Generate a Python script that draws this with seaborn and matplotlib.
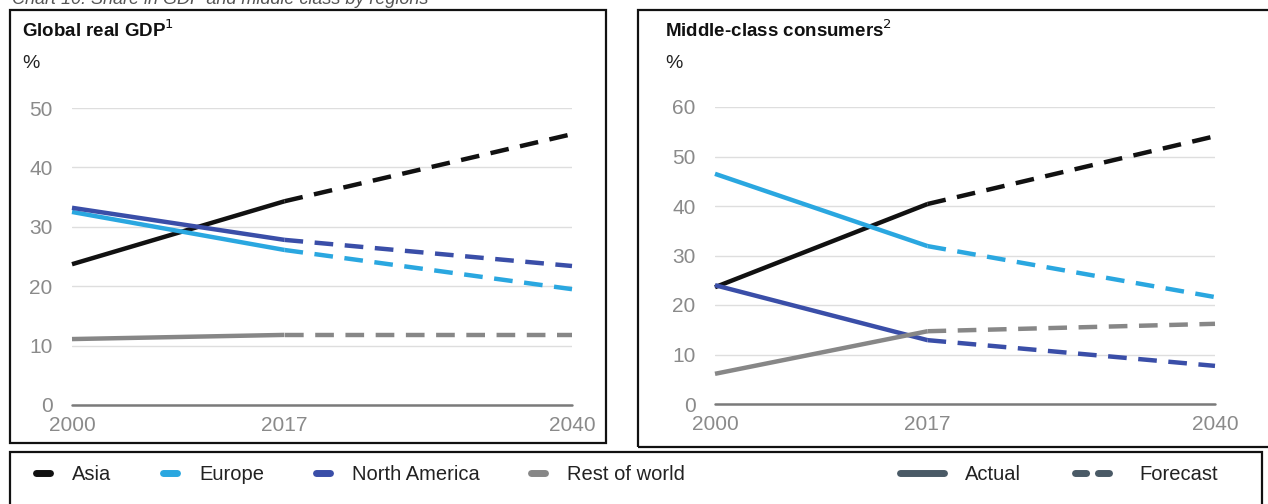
import pandas as pd
import matplotlib.pyplot as plt
import seaborn as sns
from matplotlib.lines import Line2D
from matplotlib.patches import Rectangle

YEARS = [2000, 2017, 2040]
REGIONS = ["Asia", "Europe", "North America", "Rest of world"]
COLORS = {"Asia": "#111111", "Europe": "#2aa7e0", "North America": "#3a4ea8", "Rest of world": "#878787"}

gdp_asia = [23.7, 34.3, 45.6]
gdp_europe = [32.5, 26.1, 19.5]
gdp_namerica = [33.2, 27.8, 23.4]
gdp_rest = [11.1, 11.8, 11.8]

mc_asia = [23.6, 40.4, 54.1]
mc_europe = [46.5, 31.9, 21.6]
mc_namerica = [24.0, 12.9, 7.7]
mc_rest = [6.1, 14.7, 16.2]

GREY = "#8a8a8a"


def long_frame(series):
    rows = []
    for region, vals in zip(REGIONS, series):
        # actual segment 2000-2017, forecast 2017-2040
        for phase, idx in (("Actual", [0, 1]), ("Forecast", [1, 2])):
            for i in idx:
                rows.append({"year": YEARS[i], "value": vals[i], "region": region,
                             "phase": phase, "seg": region + phase})
    return pd.DataFrame(rows)


sns.set_theme(style="white")
plt.rcParams["font.family"] = ["Liberation Sans", "DejaVu Sans"]

fig = plt.figure(figsize=(12.68, 5.04), dpi=100)
W, H = 1268, 504

panels = [
    (long_frame([gdp_asia, gdp_europe, gdp_namerica, gdp_rest]), [72, 405, 572, 108], 50,
     "Global real GDP", "1", 22),
    (long_frame([mc_asia, mc_europe, mc_namerica, mc_rest]), [715, 404, 1215, 107], 60,
     "Middle-class consumers", "2", 665),
]

for df, (x0, yb, x1, yt), ymax, title, sup, tx in panels:
    ax = fig.add_axes([x0 / W, (H - yb) / H, (x1 - x0) / W, (yb - yt) / H])
    for seg, d in df.groupby("seg", sort=False):
        region = d["region"].iloc[0]
        forecast = d["phase"].iloc[0] == "Forecast"
        sns.lineplot(data=d, x="year", y="value", ax=ax, color=COLORS[region], lw=3.2,
                     linestyle=(0, (4.2, 2.6)) if forecast else "-", legend=False,
                     solid_capstyle="butt", zorder=3)
    ax.set_xlim(2000, 2040)
    ax.set_ylim(0, ymax)
    ax.set_xticks(YEARS)
    ax.set_yticks(range(0, ymax + 1, 10))
    ax.grid(axis="y", color="#dedede", lw=1)
    ax.axhline(0, color="#7a7a7a", lw=1.8, zorder=2)
    for s in ax.spines.values():
        s.set_visible(False)
    ax.tick_params(axis="both", colors=GREY, labelsize=15, length=0)
    ax.tick_params(axis="x", pad=8)
    ax.tick_params(axis="y", pad=14)
    ax.set_xlabel("")
    ax.set_ylabel("")
    for ln in ax.lines:
        ln.set_clip_on(False)
    fig.text(tx / W, 1 - 30 / H, title + r"$^{" + sup + "}$", fontsize=13.5, fontweight="bold",
             color="#111", va="center", ha="left")
    fig.text(tx / W, 1 - 63 / H, "%", fontsize=14, color="#222", va="center", ha="left")

# panel frames
for (x0, y0, x1, y1) in [(10, 10, 606, 443), (638, 10, 1275, 447), (10, 452, 1262, 510)]:
    fig.add_artist(Rectangle((x0 / W, 1 - y1 / H), (x1 - x0) / W, (y1 - y0) / H,
                             transform=fig.transFigure, fill=False, ec="#111", lw=1.6))

# caption, cut by the top edge as in the source image
fig.text(12 / W, 1.0, "Chart 10: Share in GDP and middle class by regions", fontsize=13,
         style="italic", color="#555", va="center", ha="left")

# legends
reg_handles = [Line2D([], [], color=COLORS[r], lw=5, solid_capstyle="round") for r in REGIONS]
fig.legend(reg_handles, REGIONS, loc="center left", bbox_to_anchor=(18 / W, 1 - 475 / H),
           ncol=4, frameon=False, fontsize=14.5, handlelength=0.7, handletextpad=1.1,
           columnspacing=2.55, labelcolor="#222")
ph_color = "#4a5a66"
ph_handles = [Line2D([], [], color=ph_color, lw=5, solid_capstyle="round"),
              Line2D([], [], color=ph_color, lw=5, linestyle=(0, (1.6, 1.7)), dash_capstyle="round")]
fig.legend(ph_handles, ["Actual", "Forecast"], loc="center left", bbox_to_anchor=(882 / W, 1 - 475 / H),
           ncol=2, frameon=False, fontsize=14.5, handlelength=2.2, handletextpad=1.0,
           columnspacing=2.7, labelcolor="#222")

fig.savefig("out.png", dpi=100)
